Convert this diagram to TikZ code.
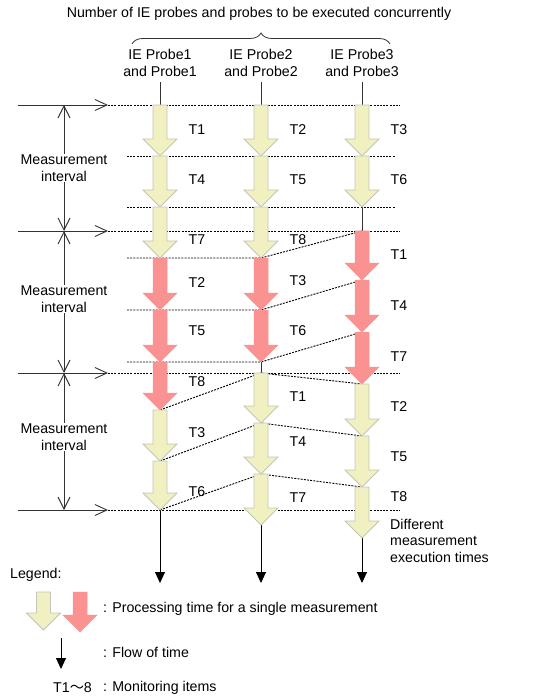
\documentclass[tikz,border=0pt]{standalone}
\usepackage{fontspec}
\setmainfont{Liberation Sans}
\newfontfamily\cjkfont{Noto Sans CJK JP}
\usetikzlibrary{arrows.meta,decorations.pathreplacing}

\definecolor{ylwfill}{HTML}{F0F0C0}
\definecolor{ylwline}{HTML}{C4C4BA}
\definecolor{redfill}{HTML}{FA9292}
\definecolor{dk}{HTML}{333333}

% style, x, ytop, ybottom
\newcommand\parrow[4]{%
  \draw[#1] ({#2-7},#3) -- ({#2+7},#3) -- ({#2+7},{#4-17}) -- ({#2+17},{#4-17})
    -- (#2,#4) -- ({#2-17},{#4-17}) -- ({#2-7},{#4-17}) -- cycle;}

\begin{document}
\begin{tikzpicture}[x=1pt,y=-1pt,
  every node/.style={font=\fontsize{14.2}{16.5}\selectfont, inner sep=0pt},
  ylw/.style={fill=ylwfill,draw=ylwline,line width=0.8pt},
  rd/.style={fill=redfill,draw=redfill,line width=0.5pt},
  dotln/.style={dash pattern=on 2pt off 1.2pt, line width=0.9pt, black},
  meas/.style={line width=0.9pt, dk, {Straight Barb[length=12pt,width=12pt]}-{Straight Barb[length=12pt,width=12pt]}},
  hmeas/.style={line width=0.9pt, dk, -{Straight Barb[length=12pt,width=11pt]}},
  flow/.style={line width=0.9pt, black, -{Triangle[length=11pt,width=10pt]}},
  thin/.style={line width=0.9pt, dk},
  tlab/.style={anchor=center}]
\useasboundingbox (0,0) rectangle (535,700);

% ---------- title and brace ----------
\node (title) at (259,14) {Number of IE probes and probes to be executed concurrently};
\draw[line width=0.8pt, dk, decorate, decoration={brace, amplitude=11pt}] (132,44) -- (390,44);
\node[align=center] (h1) at (160,63) {IE Probe1\\and Probe1};
\node[align=center] (h2) at (261,63) {IE Probe2\\and Probe2};
\node[align=center] (h3) at (362,63) {IE Probe3\\and Probe3};

% ---------- coordinates ----------
\coordinate (L0) at (108,105); \coordinate (R0) at (400,105);
\coordinate (L1) at (127,156); \coordinate (R1) at (395,156);
\coordinate (L2) at (127,207); \coordinate (R2) at (395,207);
\coordinate (L3) at (108,231); \coordinate (R3) at (400,231);
\coordinate (L4) at (127,258); \coordinate (B2a) at (261,258); \coordinate (C3a) at (362,231);
\coordinate (L5) at (127,310); \coordinate (B2b) at (261,310); \coordinate (C3b) at (362,280);
\coordinate (L6) at (127,362); \coordinate (B2c) at (261,362); \coordinate (C3c) at (362,332);
\coordinate (L7) at (108,373); \coordinate (R7) at (400,373);
\coordinate (C2d) at (261,373); \coordinate (C3d) at (362,384);
\coordinate (C1a) at (160,410);
\coordinate (C1b) at (160,461); \coordinate (C2e) at (261,423); \coordinate (C3e) at (362,436);
\coordinate (C1c) at (160,510); \coordinate (C2f) at (261,474); \coordinate (C3f) at (362,487);
\coordinate (L8) at (108,510); \coordinate (R8) at (400,510);
\coordinate (S0) at (18,105); \coordinate (S3) at (18,231);
\coordinate (S7) at (18,373); \coordinate (S8) at (18,510);
\coordinate (V0) at (64,105); \coordinate (V3) at (64,231);
\coordinate (V7) at (64,373); \coordinate (V8) at (64,510);
\coordinate (E1) at (160,583); \coordinate (E2) at (261,583); \coordinate (E3) at (362,583);
\coordinate (B2g) at (261,525); \coordinate (B3g) at (362,538);
\coordinate (U1) at (160,82); \coordinate (U2) at (261,82); \coordinate (U3) at (362,82);
\coordinate (D1) at (160,105); \coordinate (D2) at (261,105); \coordinate (D3) at (362,105);
\coordinate (G3) at (362,207);

% ---------- dashed lines ----------
\draw[dotln] (L0) -- (R0);
\draw[dotln] (L1) -- (R1);
\draw[dotln] (L2) -- (R2);
\draw[dotln] (L3) -- (R3);
\draw[dotln] (L4) -- (B2a) -- (C3a);
\draw[dotln] (L5) -- (B2b) -- (C3b);
\draw[dotln] (L6) -- (B2c) -- (C3c);
\draw[dotln] (L7) -- (R7);
\draw[dotln] (C1a) -- (C2d) -- (C3d);
\draw[dotln] (C1b) -- (C2e) -- (C3e);
\draw[dotln] (C1c) -- (C2f) -- (C3f);
\draw[dotln] (L8) -- (R8);

% ---------- header stems and gaps ----------
\draw[thin] (U1) -- (D1);
\draw[thin] (U2) -- (D2);
\draw[thin] (U3) -- (D3);
\draw[thin] (G3) -- (C3a);
\draw[thin] (B2c) -- (C2d);

% ---------- flow of time arrows ----------
\draw[flow] (C1c) -- (E1);
\draw[flow] (B2g) -- (E2);
\draw[flow] (B3g) -- (E3);

% ---------- processing arrows ----------
% column 1
\parrow{ylw}{160}{105}{156}
\parrow{ylw}{160}{156}{207}
\parrow{ylw}{160}{207}{258}
\parrow{rd}{160}{258}{310}
\parrow{rd}{160}{310}{362}
\parrow{rd}{160}{362}{410}
\parrow{ylw}{160}{410}{461}
\parrow{ylw}{160}{461}{510}
% column 2
\parrow{ylw}{261}{105}{156}
\parrow{ylw}{261}{156}{207}
\parrow{ylw}{261}{207}{258}
\parrow{rd}{261}{258}{310}
\parrow{rd}{261}{310}{362}
\parrow{ylw}{261}{373}{423}
\parrow{ylw}{261}{423}{474}
\parrow{ylw}{261}{474}{525}
% column 3
\parrow{ylw}{362}{105}{156}
\parrow{ylw}{362}{156}{207}
\parrow{rd}{362}{231}{280}
\parrow{rd}{362}{280}{332}
\parrow{rd}{362}{332}{384}
\parrow{ylw}{362}{384}{436}
\parrow{ylw}{362}{436}{487}
\parrow{ylw}{362}{487}{538}

% ---------- T labels ----------
\node[tlab] (a1) at (197,130) {T1};
\node[tlab] (a4) at (197,180) {T4};
\node[tlab] (a7) at (197,240) {T7};
\node[tlab] (a2) at (197,283) {T2};
\node[tlab] (a5) at (197,331) {T5};
\node[tlab] (a8) at (197,382) {T8};
\node[tlab] (a3) at (197,433) {T3};
\node[tlab] (a6) at (197,492) {T6};
\node[tlab] (b2) at (298,130) {T2};
\node[tlab] (b5) at (298,180) {T5};
\node[tlab] (b8) at (298,240) {T8};
\node[tlab] (b3) at (298,281) {T3};
\node[tlab] (b6) at (298,331) {T6};
\node[tlab] (b1) at (298,397) {T1};
\node[tlab] (b4) at (298,442) {T4};
\node[tlab] (b7) at (298,498) {T7};
\node[tlab] (c3) at (399,130) {T3};
\node[tlab] (c6) at (399,180) {T6};
\node[tlab] (c1) at (399,255) {T1};
\node[tlab] (c4) at (399,306) {T4};
\node[tlab] (c7) at (399,357) {T7};
\node[tlab] (c2) at (399,407) {T2};
\node[tlab] (c5) at (399,457) {T5};
\node[tlab] (c8) at (399,497) {T8};
\node[anchor=north west, align=left] (diff) at (390,519) {Different\\measurement\\execution times};

% ---------- measurement intervals ----------
\draw[hmeas] (S0) -- (L0);
\draw[hmeas] (S3) -- (L3);
\draw[hmeas] (S7) -- (L7);
\draw[hmeas] (S8) -- (L8);
\draw[meas] (V0) -- (V3);
\draw[meas] (V3) -- (V7);
\draw[meas] (V7) -- (V8);
\node[align=center, fill=white, inner ysep=1pt] (m1) at (64,168) {Measurement\\interval};
\node[align=center, fill=white, inner ysep=1pt] (m2) at (64,299) {Measurement\\interval};
\node[align=center, fill=white, inner ysep=1pt] (m3) at (64,437) {Measurement\\interval};

% ---------- legend ----------
\node[anchor=west] (leg) at (10,575) {Legend:};
\parrow{ylw}{43.5}{592}{630}
\parrow{rd}{80}{592}{632}
\coordinate (F0) at (61,638); \coordinate (F1) at (61,669);
\draw[flow] (F0) -- (F1);
\node[anchor=west] (lg1) at (103,609) {: Processing time for a single measurement};
\node[anchor=west] (lg2) at (103,652) {: Flow of time};
\node[anchor=west] (lg3a) at (53,688) {T1{\cjkfont ～}8};
\node[anchor=west] (lg3) at (103,688) {: Monitoring items};
\end{tikzpicture}
\end{document}
